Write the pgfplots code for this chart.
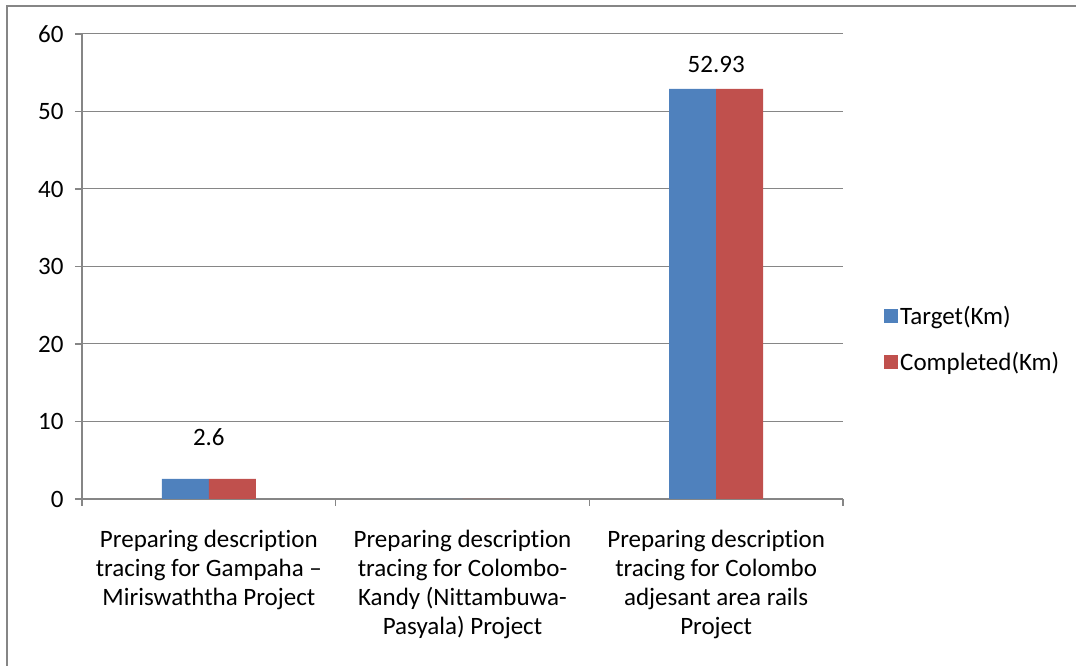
\documentclass[border=0pt]{standalone}
\usepackage{fontspec}
\setmainfont{Carlito}[Ligatures=NoCommon]
\usepackage{pgfplots}
\pgfplotsset{compat=1.18}

\definecolor{xlblue}{HTML}{4F81BD}
\definecolor{xlred}{HTML}{C0504D}
\definecolor{xlgray}{HTML}{868686}

\begin{document}
\begin{tikzpicture}[x=1pt,y=1pt]
\useasboundingbox (0,0) rectangle (1076,666);
% outer chart frame (only top and left edge visible)
\draw[xlgray, line width=2pt] (6.5,0) -- (6.5,659.5) -- (1076,659.5);

\begin{axis}[
    at={(82pt,167pt)}, anchor=south west,
    scale only axis, width=761pt, height=465pt,
    ybar=0pt, bar width=47pt,
    xmin=0.5, xmax=3.5,
    ymin=0, ymax=60, ytick={0,10,...,60},
    xtick={1,2,3},
    xticklabels={
        {Preparing description\\tracing for Gampaha --\\Miriswaththa Project},
        {Preparing description\\tracing for Colombo-\\Kandy (Nittambuwa-\\Pasyala) Project},
        {Preparing description\\tracing for Colombo\\adjesant area rails\\Project}},
    minor xtick={0.5,1.5,2.5,3.5},
    axis x line*=bottom, axis y line*=left,
    axis line style={xlgray, line width=1.2pt, -},
    ymajorgrids, grid style={xlgray, line width=1pt},
    tick align=outside,
    x tick style={draw=none},
    minor x tick style={draw=xlgray, line width=1.2pt},
    minor tick length=7pt,
    y tick style={xlgray, line width=1.2pt},
    major tick length=7pt,
    tick label style={font=\fontsize{25}{29}\selectfont, text=black},
    /pgf/number format/assume math mode=true,
    yticklabel style={xshift=-8pt},
    xticklabel style={align=center, yshift=-21pt},
    legend style={draw=none, fill=none, at={(1,0.344)}, anchor=west,
        xshift=41pt, inner sep=0pt, row sep=22pt,
        font=\fontsize{25}{29}\selectfont, cells={anchor=west},
        /tikz/every even column/.append style={column sep=4pt}},
    legend image code/.code={\fill[#1] (0pt,-7pt) rectangle (14pt,7pt);},
    clip=false,
]
\addplot[fill=xlblue, draw=none] coordinates {(1,2.6) (2,0) (3,52.93)};
\addplot[fill=xlred, draw=none] coordinates {(1,2.6) (2,0) (3,52.93)};
\legend{Target(Km),Completed(Km)}
\node[font=\fontsize{25}{29}\selectfont] at (axis cs:1,8.0) {2.6};
\node[font=\fontsize{25}{29}\selectfont] at (axis cs:3,56.13) {52.93};
\end{axis}
\end{tikzpicture}
\end{document}
